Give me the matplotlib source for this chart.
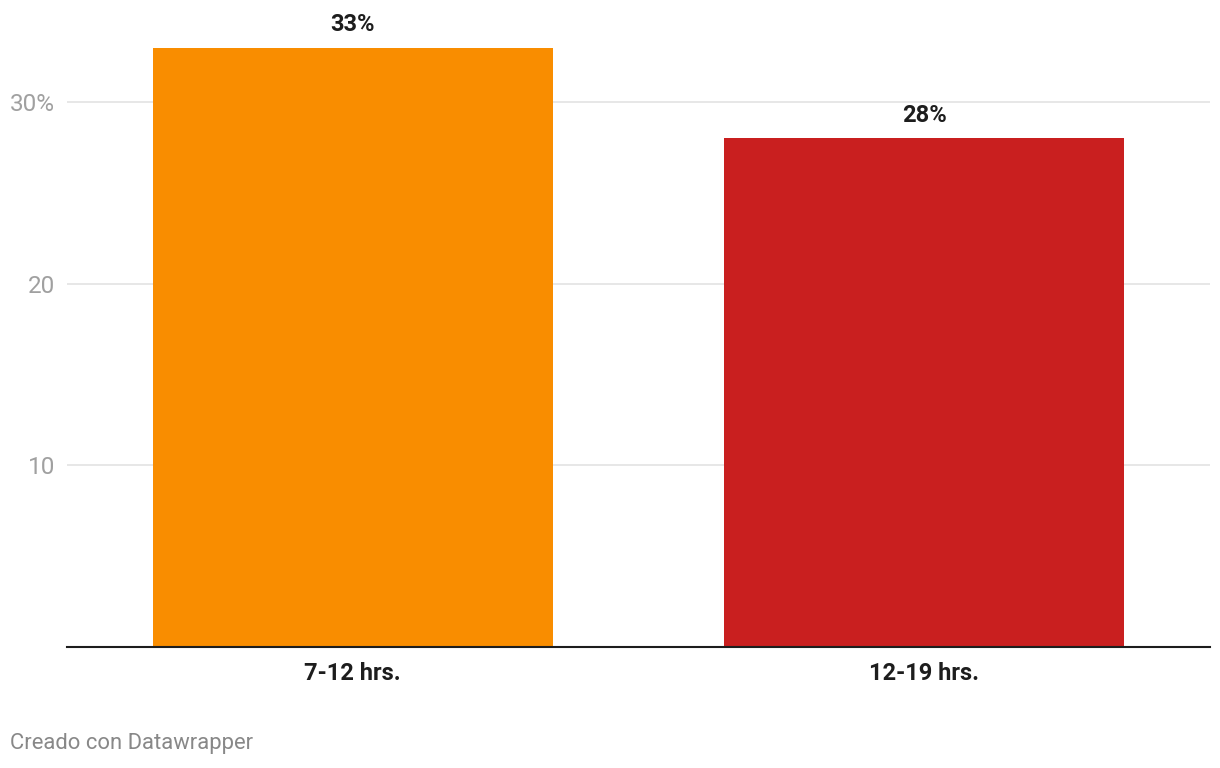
import matplotlib
matplotlib.use("Agg")
import matplotlib.pyplot as plt

categories = ["7-12 hrs.", "12-19 hrs."]
values = [33, 28]
colors = ["#f98d00", "#c91f1f"]
yticks = [10, 20, 30]
ytick_labels = ["10", "20", "30%"]

plt.rcParams['font.family'] = ['Roboto', 'DejaVu Sans']

W, H = 1220, 768
fig = plt.figure(figsize=(W / 100, H / 100), dpi=100)
left, right, bottom, top = 67, 1210, 647, 20
ax = fig.add_axes([left / W, (H - bottom) / H, (right - left) / W, (bottom - top) / H])

px_per_unit = (647 - 102) / 30.0
ax.set_ylim(0, (bottom - top) / px_per_unit)
ax.set_xlim(-0.5, 1.5)

x = list(range(len(categories)))
bars = ax.bar(x, values, width=0.7, color=colors, zorder=2)

for xi, v in zip(x, values):
    ax.annotate(f"{v}%", (xi, v), xytext=(0, 8), textcoords="offset points",
                ha="center", va="bottom", fontsize=17, fontweight="bold", color="#1d1d1d")

ax.set_yticks(yticks)
ax.set_yticklabels(ytick_labels)
ax.set_xticks(x)
ax.set_xticklabels(categories, fontsize=17, fontweight="bold", color="#1d1d1d")
ax.tick_params(axis="y", length=0, pad=8.5, labelsize=17.5, labelcolor="#a0a0a0")
ax.tick_params(axis="x", length=0, pad=11)
for lab in ax.get_yticklabels():
    lab.set_horizontalalignment("right")

ax.grid(axis="y", color="#e3e3e3", linewidth=1.2, zorder=0)
for s in ["top", "right", "left"]:
    ax.spines[s].set_visible(False)
ax.spines["bottom"].set_color("#1d1d1d")
ax.spines["bottom"].set_linewidth(1.5)
ax.spines["bottom"].set_zorder(3)

fig.text(10 / W, 1 - 744 / H, "Creado con Datawrapper", fontsize=15.8, color="#888888",
         ha="left", va="center")

fig.savefig("out.png", dpi=100)
